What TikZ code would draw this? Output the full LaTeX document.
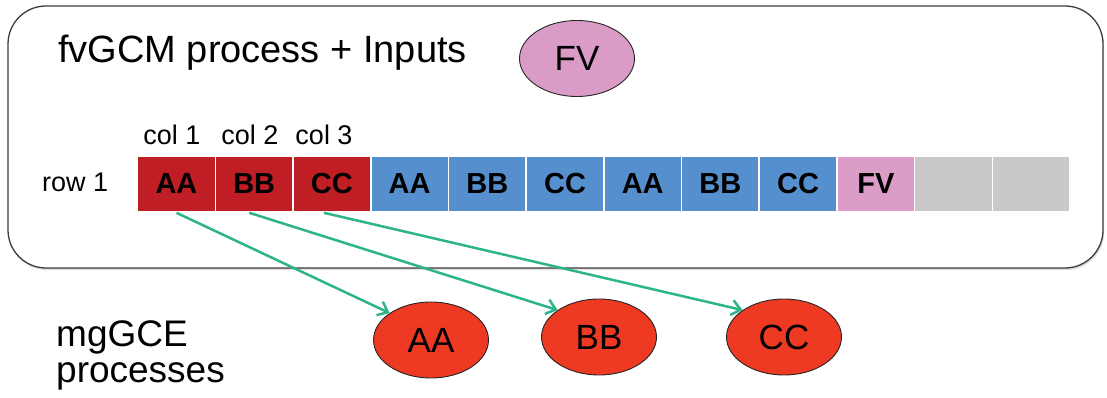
\documentclass[tikz,border=0pt]{standalone}
\usepackage{fontspec}
\setmainfont{Liberation Sans}
\usetikzlibrary{arrows.meta,shapes.geometric,shadows}

\definecolor{cellred}{RGB}{190,30,36}
\definecolor{cellblue}{RGB}{85,143,205}
\definecolor{cellpink}{RGB}{219,157,199}
\definecolor{cellgray}{RGB}{200,201,200}
\definecolor{procred}{RGB}{238,57,35}
\definecolor{procpink}{RGB}{218,155,198}
\definecolor{flowgreen}{RGB}{46,180,139}
\definecolor{framegray}{RGB}{60,60,60}

\newcommand{\fs}[1]{\fontsize{#1}{#1}\selectfont}
\newcommand{\capfont}{\fontsize{37}{36}\selectfont}

\begin{document}
\begin{tikzpicture}[x=1pt,y=1pt,
  frame/.style={draw=framegray, line width=1.3pt, rounded corners=38pt,
    fill=white, minimum width=1095pt, minimum height=262pt, inner sep=0pt,
    drop shadow={shadow xshift=1.2pt, shadow yshift=-2.2pt, opacity=0.25}},
  cell/.style={draw=white, line width=1.6pt, minimum width=77.7pt,
    minimum height=56pt, inner sep=0pt, font=\fs{29}\bfseries, text=black},
  proc/.style={ellipse, draw=black!85, line width=0.9pt, minimum width=115pt,
    minimum height=76pt, inner sep=0pt, font=\fs{35}, text=black},
  caption/.style={inner sep=0pt, anchor=base west, font=\fs{38}},
  small/.style={inner sep=0pt, anchor=base, font=\fs{27}},
  flow/.style={draw=flowgreen, line width=2.5pt,
    -{Straight Barb[length=9pt, width=15pt, line width=2.5pt]}}]

\useasboundingbox (0,0) rectangle (1107,398);

% rounded container of the fvGCM process
\node[frame] (box) at (555.5,261) {};

% titles
\node[caption] (title) at (58,335) {fvGCM process + Inputs};
\node[caption, align=left, anchor=north west, font=\capfont]
  (mg) at (56,78) {mgGCE\\processes};

% the FV input
\node[proc, fill=procpink] (fv) at (577,339.5) {FV};

% row of cells
\foreach \lbl/\col [count=\i] in {AA/cellred, BB/cellred, CC/cellred,
    AA/cellblue, BB/cellblue, CC/cellblue, AA/cellblue, BB/cellblue,
    CC/cellblue, FV/cellpink, {}/cellgray, {}/cellgray}
  \node[cell, fill=\col] (b\i) at ({176.5+77.7*(\i-1)},214) {\lbl};

% row and column labels
\node[small, anchor=base west] (row) at (42,206) {row 1};
\node[small] (c1) at (172,253) {col 1};
\node[small] (c2) at (250,253) {col 2};
\node[small] (c3) at (324,253) {col 3};

% mgGCE processes
\node[proc, fill=procred] (e1) at (431,58) {AA};
\node[proc, fill=procred] (e2) at (599,61) {BB};
\node[proc, fill=procred] (e3) at (784,61) {CC};

% column-to-process mapping
\draw[flow] (b1.south) -- (e1.147);
\draw[flow] ([xshift=-5pt]b2.south) -- (e2.147);
\draw[flow] ([xshift=-8pt]b3.south) -- (e3.147);
\end{tikzpicture}
\end{document}
